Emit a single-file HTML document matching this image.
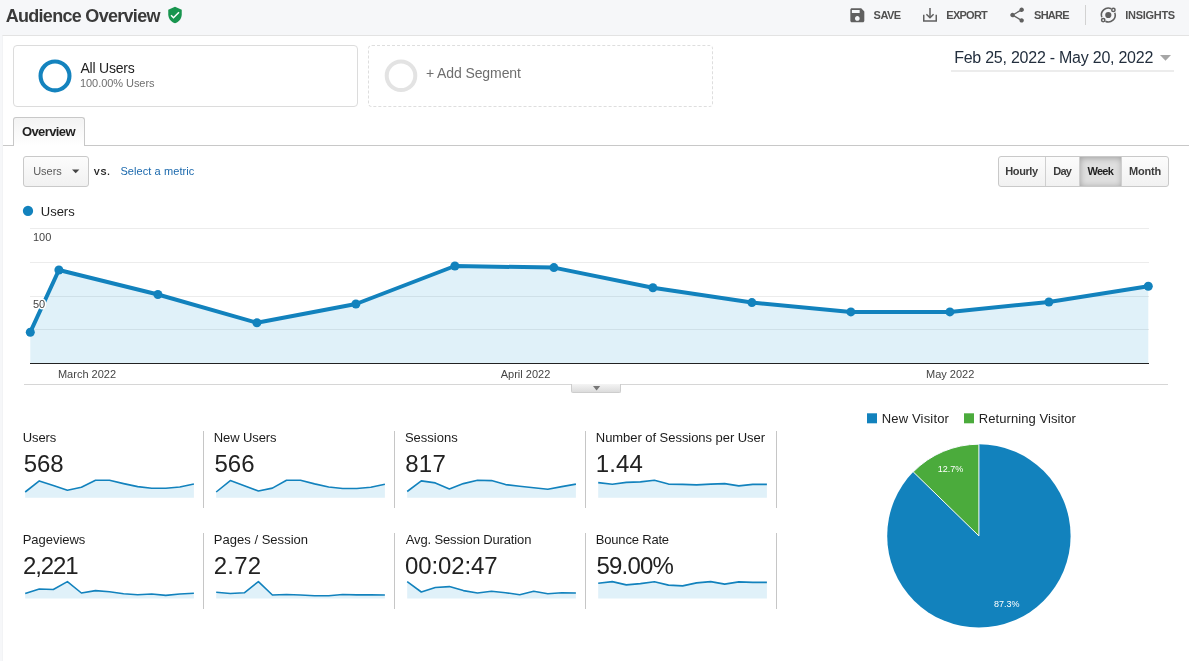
<!DOCTYPE html>
<html lang="en"><head><meta charset="utf-8"><title>Audience Overview</title>
<style>
*{box-sizing:border-box}
html,body{margin:0;padding:0}
body{width:1189px;height:661px;background:#f6f7f9;position:relative;overflow:hidden;font-family:"Liberation Sans", sans-serif;}
.a{position:absolute}
.t{position:absolute;white-space:nowrap;line-height:1}
#panel{left:2px;top:35px;width:1187px;height:626px;background:#fff;border-top:1px solid #e3e3e3;border-left:1px solid #f2f3f5}
.seg{top:45px;width:345px;height:62px;border:1px solid #dcdcdc;border-radius:4px;background:#fff}
.seg.add{border:1px dashed #dedede}
.btn{border:1px solid #c9c9c9;border-radius:3px;background:linear-gradient(#fcfcfc,#f1f1f1)}
.vl{width:1px;background:#c6c6c6}
</style></head>
<body>
<div class="a" id="panel"></div>
<svg class="a" style="left:166.1px;top:5.9px" width="18" height="18" viewBox="0 0 24 24"><path fill="#18954f" d="M12 1L3 5v6c0 5.55 3.84 10.74 9 12 5.160-1.26 9-6.45 9-12V5l-9-4z"/><path fill="none" stroke="#fff" stroke-width="2" d="M6.7 12.3L10 15.6l7.3-7.3"/></svg>
<svg class="a" style="left:847.7px;top:5.75px" width="18.67" height="18.67" viewBox="0 0 24 24"><path fill="#606060" d="M17 3H5c-1.110 0-2 .9-2 2v14c0 1.100.89 2 2 2h14c1.100 0 2-.9 2-2V7l-4-4zm-5 16c-1.660 0-3-1.340-3-3s1.340-3 3-3 3 1.340 3 3-1.340 3-3 3zm3-10H5V5h10v4z"/></svg>
<svg class="a" style="left:920px;top:5px" width="20" height="20" viewBox="0 0 20 20"><g fill="none" stroke="#606060" stroke-width="1.5"><path d="M3.75 9.8v6.2h12.5V9.800"/><path d="M10 3.100v9.600"/><path d="M6.400 9.200L10 12.800l3.600-3.600"/></g></svg>
<svg class="a" style="left:1007.75px;top:6.1px" width="18.200" height="18.200" viewBox="0 0 24 24"><path fill="#606060" d="M18 16.080c-.76 0-1.440.3-1.960.77L8.910 12.700c.05-.23.09-.46.09-.7s-.04-.47-.09-.7l7.050-4.110c.54.5 1.250.81 2.040.81 1.660 0 3-1.340 3-3s-1.340-3-3-3-3 1.340-3 3c0 .24.04.47.09.7L8.040 9.810C7.500 9.310 6.790 9 6 9c-1.660 0-3 1.340-3 3s1.340 3 3 3c.79 0 1.500-.31 2.040-.81l7.120 4.160c-.05.21-.08.43-.08.65 0 1.610 1.310 2.920 2.920 2.920 1.610 0 2.920-1.310 2.920-2.920s-1.310-2.920-2.920-2.920z"/></svg>
<div class="a" style="left:1085px;top:5px;width:1px;height:20px;background:#d2d2d2"></div>
<svg class="a" style="left:1098px;top:5px" width="20" height="20" viewBox="0 0 20 20"><g fill="none" stroke="#606060" stroke-width="1.550"><path d="M13.22 3.75A6.9 6.9 0 0 0 3.82 12.36"/><path d="M7.38 16.25A6.9 6.9 0 0 0 16.78 7.64"/><circle cx="15.39" cy="4.91" r="1.650"/><circle cx="5.21" cy="15.09" r="1.650"/></g><circle cx="10.3" cy="10.0" r="3.100" fill="#606060"/></svg>
<div class="a seg" style="left:13px"></div>
<div class="a seg add" style="left:368px"></div>
<svg class="a" style="left:35px;top:56px" width="40" height="40"><circle cx="20" cy="19.900" r="14.450" fill="none" stroke="#1483be" stroke-width="4.100"/></svg>
<svg class="a" style="left:381px;top:56px" width="40" height="40"><circle cx="20" cy="19.800" r="14.300" fill="none" stroke="#e3e3e3" stroke-width="4"/></svg>
<div class="a" style="left:951px;top:70px;width:223px;height:2px;background:#ececec"></div>
<svg class="a" style="left:1159px;top:54px" width="14" height="8"><path d="M1 1h11l-5.500 5.800z" fill="#a6a6a6"/></svg>
<div class="a" style="left:3px;top:145px;width:1186px;height:1px;background:#c8c8c8"></div>
<div class="a" style="left:13px;top:117px;width:72px;height:29px;border:1px solid #c8c8c8;border-bottom:none;border-radius:3px 3px 0 0;background:linear-gradient(#f3f3f3,#fff)"></div>
<div class="a btn" style="left:23px;top:156px;width:66px;height:31px"></div>
<svg class="a" style="left:71px;top:168px" width="10" height="6"><path d="M1 1.400h7.400l-3.700 3.900z" fill="#444"/></svg>
<div class="a btn" style="left:998px;top:156px;width:171px;height:31px"></div>
<div class="a" style="left:1080px;top:157px;width:42px;height:29px;background:#dfdfdf;box-shadow:inset 0 1px 6px rgba(0,0,0,.3)"></div>
<div class="a" style="left:1045px;top:157px;width:1px;height:29px;background:#cfcfcf"></div>
<div class="a" style="left:1079px;top:157px;width:1px;height:29px;background:#cfcfcf"></div>
<div class="a" style="left:1121px;top:157px;width:1px;height:29px;background:#cfcfcf"></div>
<svg class="a" style="left:20px;top:203px" width="16" height="16"><circle cx="8" cy="7.900" r="5.150" fill="#1282bd"/></svg>
<svg class="a" style="left:0;top:0" width="1189" height="400"><path d="M30 228.5H1149" stroke="#ececec" stroke-width="1"/><path d="M30 262.5H1149" stroke="#ececec" stroke-width="1"/><path d="M30 296.5H1149" stroke="#ececec" stroke-width="1"/><path d="M30 329.5H1149" stroke="#ececec" stroke-width="1"/><path d="M30.3,363 L30.3,332.2 L58.9,270.0 L157.9,294.5 L256.9,322.8 L355.9,304.0 L454.9,266.0 L553.9,267.6 L652.9,287.8 L751.9,302.6 L850.9,311.9 L949.9,311.9 L1048.9,302.0 L1148.3,286.3 L1148.3,363Z" fill="#0a90d0" fill-opacity="0.125"/><path d="M30 363.500H1149" stroke="#222" stroke-width="1"/><polyline points="30.3,332.2 58.9,270.0 157.9,294.5 256.9,322.8 355.9,304.0 454.9,266.0 553.9,267.6 652.9,287.8 751.9,302.6 850.9,311.9 949.9,311.9 1048.9,302.0 1148.3,286.3" fill="none" stroke="#1282bd" stroke-width="4" stroke-linejoin="round"/><circle cx="30.3" cy="332.2" r="4.500" fill="#1282bd"/><circle cx="58.9" cy="270.0" r="4.500" fill="#1282bd"/><circle cx="157.9" cy="294.5" r="4.500" fill="#1282bd"/><circle cx="256.9" cy="322.8" r="4.500" fill="#1282bd"/><circle cx="355.9" cy="304.0" r="4.500" fill="#1282bd"/><circle cx="454.9" cy="266.0" r="4.500" fill="#1282bd"/><circle cx="553.9" cy="267.6" r="4.500" fill="#1282bd"/><circle cx="652.9" cy="287.8" r="4.500" fill="#1282bd"/><circle cx="751.9" cy="302.6" r="4.500" fill="#1282bd"/><circle cx="850.9" cy="311.9" r="4.500" fill="#1282bd"/><circle cx="949.9" cy="311.9" r="4.500" fill="#1282bd"/><circle cx="1048.9" cy="302.0" r="4.500" fill="#1282bd"/><circle cx="1148.3" cy="286.3" r="4.500" fill="#1282bd"/><text x="33" y="240.500" font-family="Liberation Sans, sans-serif" font-size="11" fill="#444" stroke="#fff" stroke-width="3" paint-order="stroke" stroke-linejoin="round">100</text><text x="33" y="307.500" font-family="Liberation Sans, sans-serif" font-size="11" fill="#444" stroke="#fff" stroke-width="3" paint-order="stroke" stroke-linejoin="round">50</text><text x="87" y="377.700" text-anchor="middle" font-family="Liberation Sans, sans-serif" font-size="11" fill="#444" stroke="#fff" stroke-width="3" paint-order="stroke" stroke-linejoin="round">March 2022</text><text x="525.500" y="377.700" text-anchor="middle" font-family="Liberation Sans, sans-serif" font-size="11" fill="#444" stroke="#fff" stroke-width="3" paint-order="stroke" stroke-linejoin="round">April 2022</text><text x="950.200" y="377.700" text-anchor="middle" font-family="Liberation Sans, sans-serif" font-size="11" fill="#444" stroke="#fff" stroke-width="3" paint-order="stroke" stroke-linejoin="round">May 2022</text></svg>
<div class="a" style="left:24px;top:384px;width:1144px;height:1px;background:#d6d6d6"></div>
<div class="a" style="left:571px;top:384px;width:50px;height:9px;border:1px solid #cdcdcd;border-top:none;border-radius:0 0 2px 2px;background:linear-gradient(#f4f4f4,#dcdcdc)"></div>
<svg class="a" style="left:592px;top:385px" width="10" height="7"><path d="M1 1h7.200l-3.600 4.400z" fill="#777"/></svg>
<div class="a vl" style="left:203px;top:431px;height:77px"></div>
<div class="a vl" style="left:203px;top:533px;height:76px"></div>
<div class="a vl" style="left:394px;top:431px;height:77px"></div>
<div class="a vl" style="left:394px;top:533px;height:76px"></div>
<div class="a vl" style="left:585px;top:431px;height:77px"></div>
<div class="a vl" style="left:585px;top:533px;height:76px"></div>
<div class="a vl" style="left:776px;top:431px;height:77px"></div>
<div class="a vl" style="left:776px;top:533px;height:76px"></div>
<svg class="a" style="left:0;top:470px" width="800" height="140" viewBox="0 470 800 140"><path d="M25.2,497.7 L25.2,492.0 L39.3,480.9 L53.3,485.6 L67.4,490.3 L81.4,487.3 L95.5,480.2 L109.5,480.3 L123.6,483.6 L137.7,486.6 L151.7,488.3 L165.8,488.3 L179.8,487.0 L193.9,484.0 L193.9,497.7Z" fill="#e0f1f9"/><polyline points="25.2,492.0 39.3,480.9 53.3,485.6 67.4,490.3 81.4,487.3 95.5,480.2 109.5,480.3 123.6,483.6 137.7,486.6 151.7,488.3 165.8,488.3 179.8,487.0 193.9,484.0" fill="none" stroke="#1282bd" stroke-width="1.600" stroke-linejoin="round"/><path d="M216.2,497.7 L216.2,492.0 L230.3,480.6 L244.3,485.8 L258.4,491.0 L272.4,488.1 L286.5,480.2 L300.5,480.3 L314.6,483.9 L328.7,487.0 L342.7,488.5 L356.8,488.5 L370.8,487.3 L384.9,484.3 L384.9,497.7Z" fill="#e0f1f9"/><polyline points="216.2,492.0 230.3,480.6 244.3,485.8 258.4,491.0 272.4,488.1 286.5,480.2 300.5,480.3 314.6,483.9 328.7,487.0 342.7,488.5 356.8,488.5 370.8,487.3 384.9,484.3" fill="none" stroke="#1282bd" stroke-width="1.600" stroke-linejoin="round"/><path d="M407.2,497.7 L407.2,491.5 L421.3,480.9 L435.3,482.9 L449.4,489.0 L463.4,483.6 L477.5,480.2 L491.5,480.6 L505.6,484.6 L519.7,486.3 L533.7,487.8 L547.8,489.3 L561.8,486.6 L575.9,484.1 L575.9,497.7Z" fill="#e0f1f9"/><polyline points="407.2,491.5 421.3,480.9 435.3,482.9 449.4,489.0 463.4,483.6 477.5,480.2 491.5,480.6 505.6,484.6 519.7,486.3 533.7,487.8 547.8,489.3 561.8,486.6 575.9,484.1" fill="none" stroke="#1282bd" stroke-width="1.600" stroke-linejoin="round"/><path d="M598.2,497.7 L598.2,482.6 L612.3,484.3 L626.3,482.4 L640.4,481.9 L654.4,480.2 L668.5,484.1 L682.6,484.4 L696.6,484.9 L710.7,484.1 L724.7,483.6 L738.8,485.9 L752.8,484.4 L766.9,484.4 L766.9,497.7Z" fill="#e0f1f9"/><polyline points="598.2,482.6 612.3,484.3 626.3,482.4 640.4,481.9 654.4,480.2 668.5,484.1 682.6,484.4 696.6,484.9 710.7,484.1 724.7,483.6 738.8,485.9 752.8,484.4 766.9,484.4" fill="none" stroke="#1282bd" stroke-width="1.600" stroke-linejoin="round"/><path d="M25.2,598.6 L25.2,593.5 L39.3,589.0 L53.3,589.5 L67.4,581.6 L81.4,593.0 L95.5,590.6 L109.5,591.8 L123.6,593.7 L137.7,594.7 L151.7,594.0 L165.8,595.4 L179.8,594.0 L193.9,593.3 L193.9,598.6Z" fill="#e0f1f9"/><polyline points="25.2,593.5 39.3,589.0 53.3,589.5 67.4,581.6 81.4,593.0 95.5,590.6 109.5,591.8 123.6,593.7 137.7,594.7 151.7,594.0 165.8,595.4 179.8,594.0 193.9,593.3" fill="none" stroke="#1282bd" stroke-width="1.600" stroke-linejoin="round"/><path d="M216.2,598.6 L216.2,592.2 L230.3,593.5 L244.3,592.8 L258.4,581.6 L272.4,595.0 L286.5,594.5 L300.5,595.0 L314.6,595.7 L328.7,595.7 L342.7,594.5 L356.8,594.9 L370.8,594.7 L384.9,595.0 L384.9,598.6Z" fill="#e0f1f9"/><polyline points="216.2,592.2 230.3,593.5 244.3,592.8 258.4,581.6 272.4,595.0 286.5,594.5 300.5,595.0 314.6,595.7 328.7,595.7 342.7,594.5 356.8,594.9 370.8,594.7 384.9,595.0" fill="none" stroke="#1282bd" stroke-width="1.600" stroke-linejoin="round"/><path d="M407.2,598.6 L407.2,581.6 L421.3,592.0 L435.3,587.5 L449.4,586.6 L463.4,590.6 L477.5,593.0 L491.5,591.3 L505.6,592.7 L519.7,594.7 L533.7,591.3 L547.8,593.7 L561.8,592.7 L575.9,593.0 L575.9,598.6Z" fill="#e0f1f9"/><polyline points="407.2,581.6 421.3,592.0 435.3,587.5 449.4,586.6 463.4,590.6 477.5,593.0 491.5,591.3 505.6,592.7 519.7,594.7 533.7,591.3 547.8,593.7 561.8,592.7 575.9,593.0" fill="none" stroke="#1282bd" stroke-width="1.600" stroke-linejoin="round"/><path d="M598.2,598.6 L598.2,583.2 L612.3,581.6 L626.3,584.9 L640.4,583.6 L654.4,581.7 L668.5,585.1 L682.6,585.9 L696.6,582.9 L710.7,581.6 L724.7,584.1 L738.8,581.9 L752.8,582.4 L766.9,582.4 L766.9,598.6Z" fill="#e0f1f9"/><polyline points="598.2,583.2 612.3,581.6 626.3,584.9 640.4,583.6 654.4,581.7 668.5,585.1 682.6,585.9 696.6,582.9 710.7,581.6 724.7,584.1 738.8,581.9 752.8,582.4 766.9,582.4" fill="none" stroke="#1282bd" stroke-width="1.600" stroke-linejoin="round"/></svg>
<svg class="a" style="left:860px;top:405px" width="329" height="256" viewBox="860 405 329 256"><rect x="867" y="413.300" width="10" height="10" fill="#1282bd"/><rect x="964" y="413.300" width="10" height="10" fill="#4bab3c"/><circle cx="978.9" cy="535.9" r="91.7" fill="#1282bd"/><path d="M978.9,535.9 L913.25,471.88 A91.7,91.7 0 0 1 978.9,444.2Z" fill="#4bab3c" stroke="#fff" stroke-width="1"/><text x="950.600" y="471.900" font-family="Liberation Sans, sans-serif" font-size="9" fill="#fff" text-anchor="middle">12.7%</text><text x="1006.700" y="607" font-family="Liberation Sans, sans-serif" font-size="9" fill="#fff" text-anchor="middle">87.3%</text></svg>
<span class="t" style="left:5.67px;top:7.00px;font-size:18px;font-weight:700;color:#3a3a3a;letter-spacing:-0.704px;">Audience Overview</span>
<span class="t" style="left:873.62px;top:10.00px;font-size:11px;font-weight:700;color:#505050;letter-spacing:-0.547px;">SAVE</span>
<span class="t" style="left:946.34px;top:10.00px;font-size:11px;font-weight:700;color:#505050;letter-spacing:-0.747px;">EXPORT</span>
<span class="t" style="left:1034.12px;top:10.00px;font-size:11px;font-weight:700;color:#505050;letter-spacing:-0.781px;">SHARE</span>
<span class="t" style="left:1125.33px;top:10.00px;font-size:11px;font-weight:700;color:#505050;letter-spacing:-0.299px;">INSIGHTS</span>
<span class="t" style="left:80.45px;top:61.00px;font-size:14px;font-weight:400;color:#222;letter-spacing:-0.216px;">All Users</span>
<span class="t" style="left:79.94px;top:78.00px;font-size:11px;font-weight:400;color:#6f6f6f;letter-spacing:-0.052px;">100.00% Users</span>
<span class="t" style="left:425.89px;top:66.00px;font-size:14px;font-weight:400;color:#6e6e6e;letter-spacing:-0.091px;">+ Add Segment</span>
<span class="t" style="left:954.15px;top:50.00px;font-size:16px;font-weight:400;color:#232f3e;letter-spacing:-0.242px;">Feb 25, 2022 - May 20, 2022</span>
<span class="t" style="left:21.93px;top:125.00px;font-size:13px;font-weight:700;color:#222;letter-spacing:-0.596px;">Overview</span>
<span class="t" style="left:33.20px;top:166.00px;font-size:11px;font-weight:400;color:#5a5a5a;letter-spacing:-0.016px;">Users</span>
<span class="t" style="left:93.83px;top:168.00px;font-size:9px;font-weight:700;color:#222;letter-spacing:0.735px;">VS.</span>
<span class="t" style="left:120.42px;top:166.00px;font-size:11px;font-weight:400;color:#1b69ad;letter-spacing:0.083px;">Select a metric</span>
<span class="t" style="left:40.80px;top:205.00px;font-size:13px;font-weight:400;color:#222;letter-spacing:-0.016px;">Users</span>
<span class="t" style="left:1005.24px;top:166.00px;font-size:11px;font-weight:700;color:#3c3c3c;letter-spacing:-0.382px;">Hourly</span>
<span class="t" style="left:1053.24px;top:166.00px;font-size:11px;font-weight:700;color:#3c3c3c;letter-spacing:-0.718px;">Day</span>
<span class="t" style="left:1087.40px;top:166.00px;font-size:11px;font-weight:700;color:#222;letter-spacing:-0.673px;">Week</span>
<span class="t" style="left:1128.93px;top:166.00px;font-size:11px;font-weight:700;color:#3c3c3c;letter-spacing:-0.172px;">Month</span>
<span class="t" style="left:22.70px;top:431.00px;font-size:13px;font-weight:400;color:#1c1c1c;letter-spacing:-0.066px;">Users</span>
<span class="t" style="left:23.70px;top:452.00px;font-size:24px;font-weight:400;color:#222;letter-spacing:-0.100px;">568</span>
<span class="t" style="left:22.70px;top:533.00px;font-size:13px;font-weight:400;color:#1c1c1c;letter-spacing:-0.032px;">Pageviews</span>
<span class="t" style="left:22.89px;top:554.00px;font-size:24px;font-weight:400;color:#222;letter-spacing:-1.072px;">2,221</span>
<span class="t" style="left:213.80px;top:431.00px;font-size:13px;font-weight:400;color:#1c1c1c;letter-spacing:-0.113px;">New Users</span>
<span class="t" style="left:214.50px;top:452.00px;font-size:24px;font-weight:400;color:#222;">566</span>
<span class="t" style="left:213.80px;top:533.00px;font-size:13px;font-weight:400;color:#1c1c1c;letter-spacing:0.023px;">Pages / Session</span>
<span class="t" style="left:213.79px;top:554.00px;font-size:24px;font-weight:400;color:#222;letter-spacing:0.240px;">2.72</span>
<span class="t" style="left:404.93px;top:431.00px;font-size:13px;font-weight:400;color:#1c1c1c;">Sessions</span>
<span class="t" style="left:405.20px;top:452.00px;font-size:24px;font-weight:400;color:#222;letter-spacing:0.250px;">817</span>
<span class="t" style="left:405.75px;top:533.00px;font-size:13px;font-weight:400;color:#1c1c1c;letter-spacing:-0.138px;">Avg. Session Duration</span>
<span class="t" style="left:405.00px;top:554.00px;font-size:24px;font-weight:400;color:#222;letter-spacing:-0.126px;">00:02:47</span>
<span class="t" style="left:595.80px;top:431.00px;font-size:13px;font-weight:400;color:#1c1c1c;letter-spacing:-0.048px;">Number of Sessions per User</span>
<span class="t" style="left:595.82px;top:452.00px;font-size:24px;font-weight:400;color:#222;letter-spacing:0.127px;">1.44</span>
<span class="t" style="left:595.80px;top:533.00px;font-size:13px;font-weight:400;color:#1c1c1c;letter-spacing:-0.187px;">Bounce Rate</span>
<span class="t" style="left:596.60px;top:554.00px;font-size:24px;font-weight:400;color:#222;letter-spacing:-0.834px;">59.00%</span>
<span class="t" style="left:881.70px;top:412.00px;font-size:13px;font-weight:400;color:#222;letter-spacing:0.174px;">New Visitor</span>
<span class="t" style="left:978.70px;top:412.00px;font-size:13px;font-weight:400;color:#222;letter-spacing:0.084px;">Returning Visitor</span>
</body></html>
